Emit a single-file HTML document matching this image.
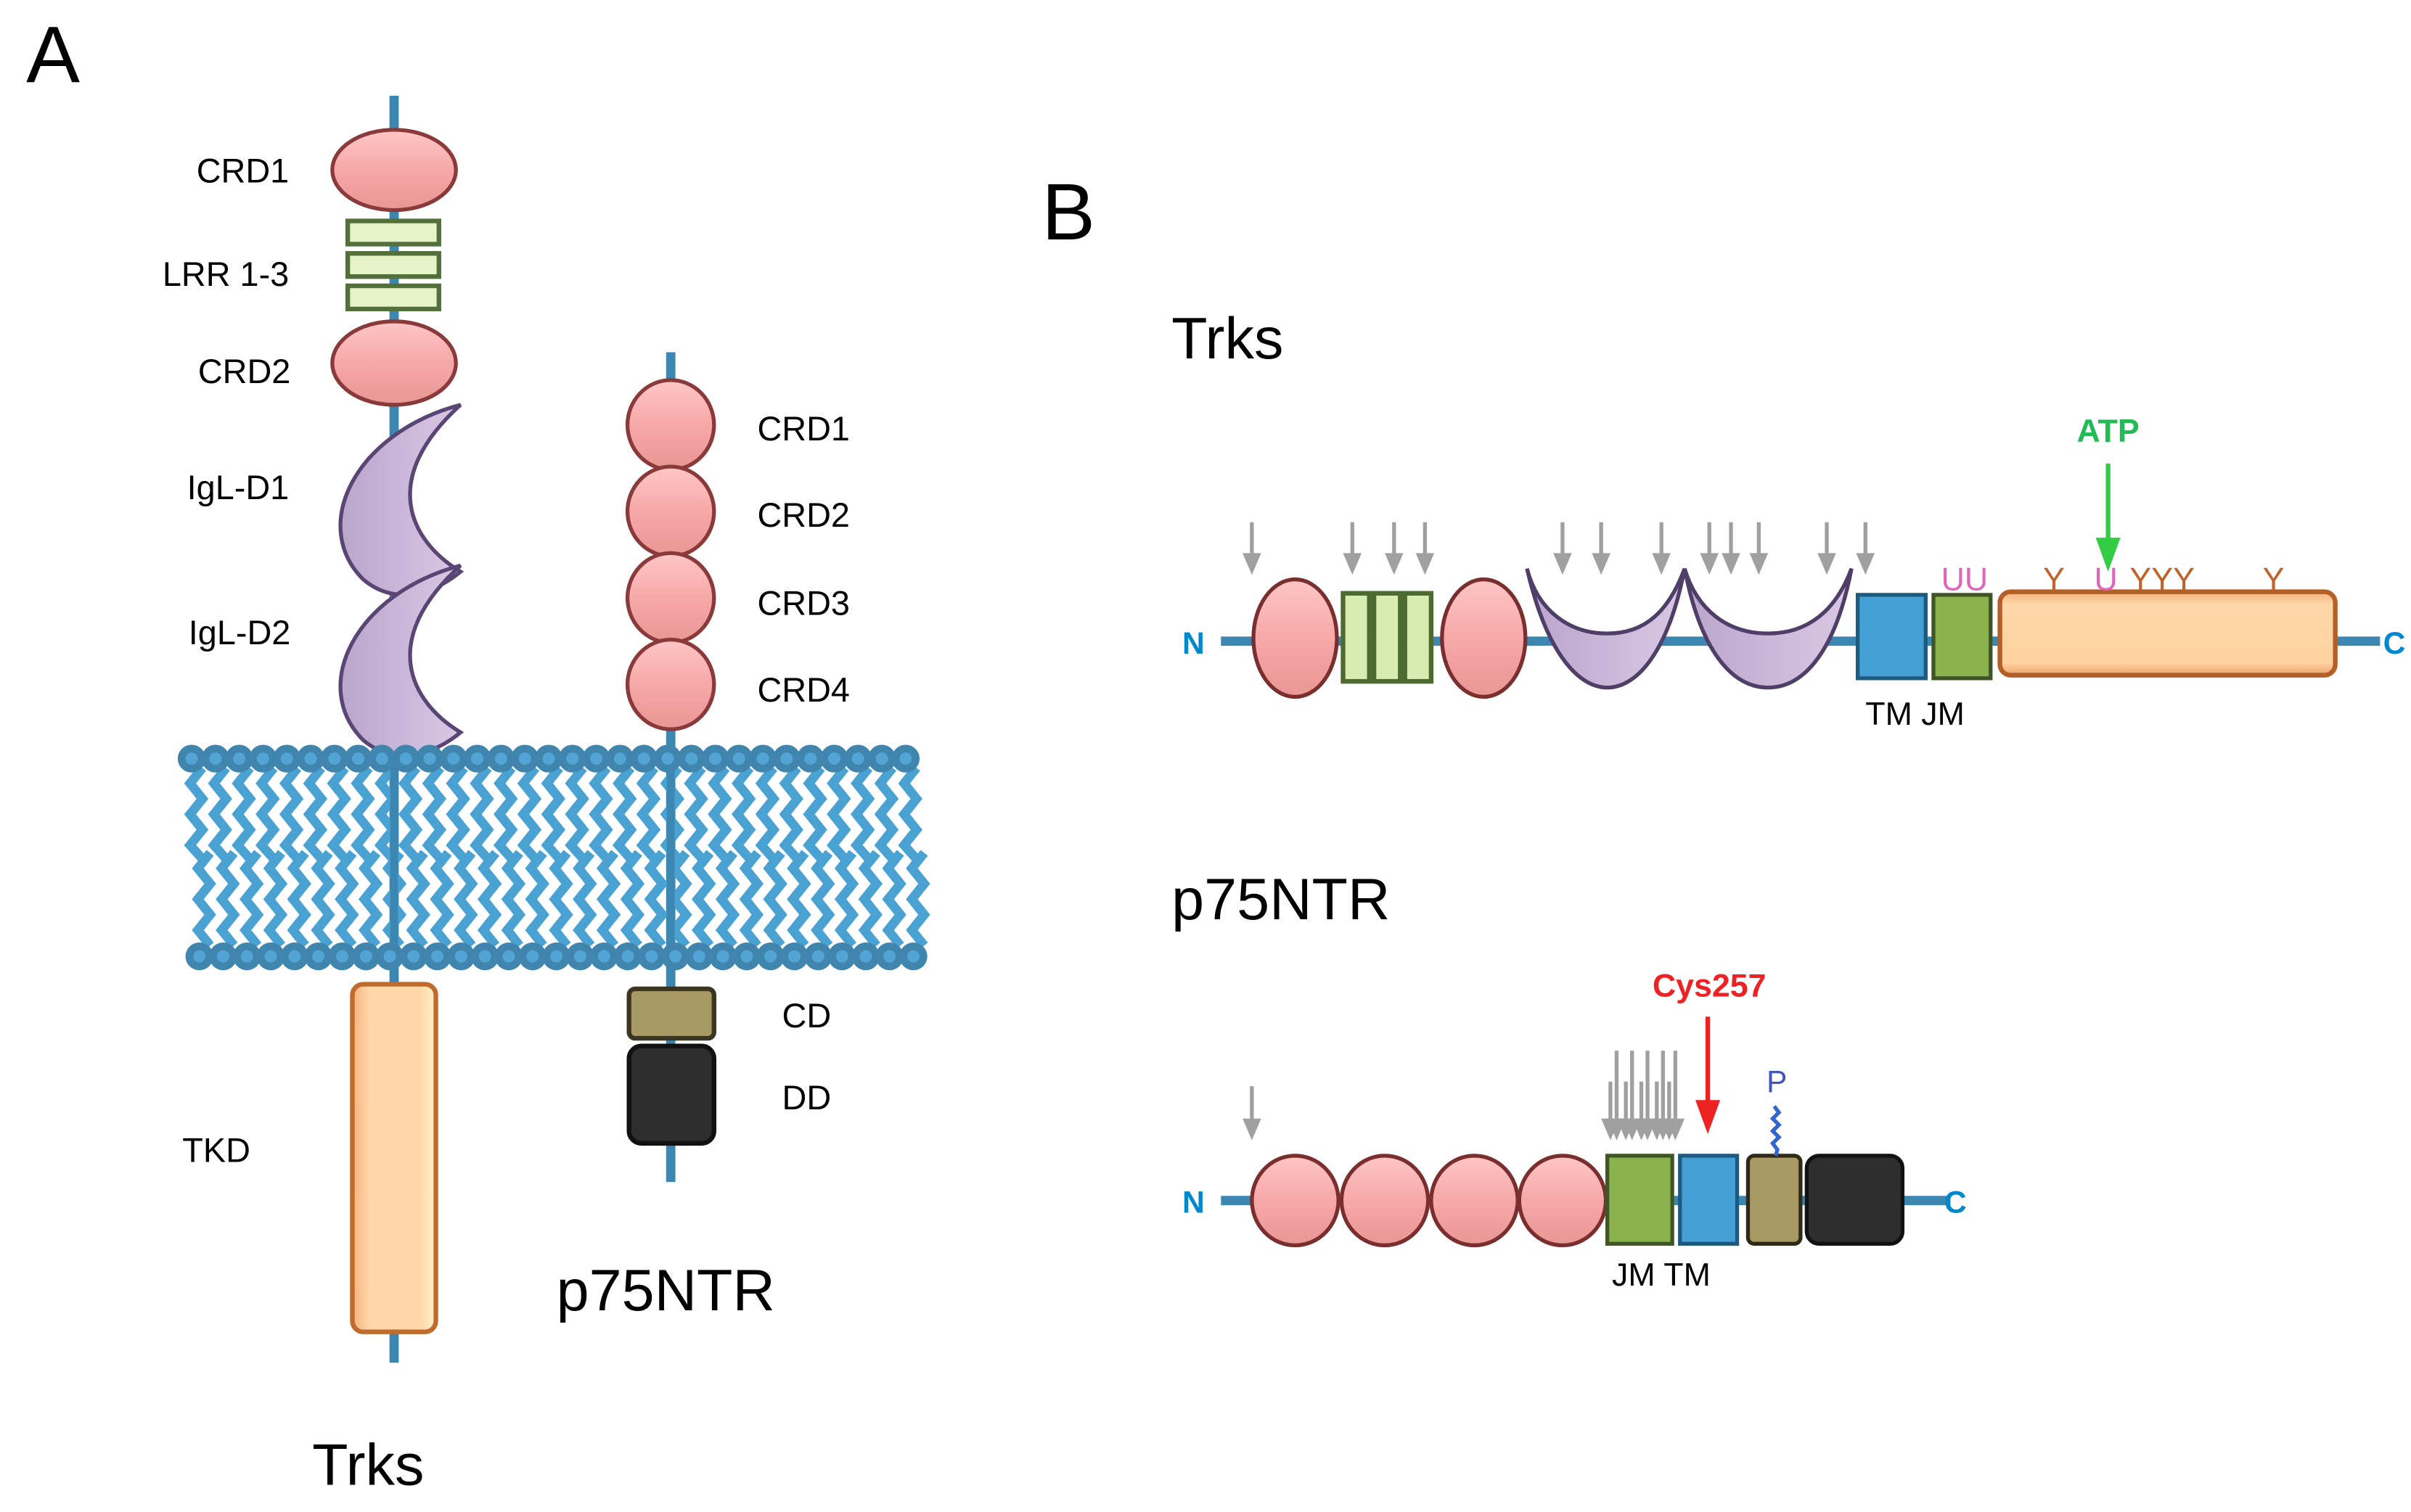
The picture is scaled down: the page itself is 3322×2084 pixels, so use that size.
<!DOCTYPE html>
<html><head><meta charset="utf-8"><style>
html,body{margin:0;padding:0;background:#fff;}
svg{display:block;}
text{font-family:"Liberation Sans",Arial,sans-serif;}
</style></head><body>
<svg id="s" width="3322" height="2084" viewBox="0 0 1560 978.6" preserveAspectRatio="none" xmlns="http://www.w3.org/2000/svg">
<defs>
<linearGradient id="pink" x1="0" y1="0" x2="0" y2="1"><stop offset="0" stop-color="#ffc6c6"/><stop offset="0.5" stop-color="#f7a8a8"/><stop offset="1" stop-color="#e89696"/></linearGradient>
<linearGradient id="purp" x1="0" y1="0" x2="1" y2="0"><stop offset="0" stop-color="#b9a6cc"/><stop offset="1" stop-color="#d8c8e4"/></linearGradient>
<linearGradient id="orng" x1="0" y1="0" x2="0" y2="1"><stop offset="0" stop-color="#f3b27f"/><stop offset="0.15" stop-color="#ffd6a8"/><stop offset="0.85" stop-color="#ffd2a0"/><stop offset="1" stop-color="#e9a370"/></linearGradient>
<linearGradient id="orngv" x1="0" y1="0" x2="1" y2="0"><stop offset="0" stop-color="#f3b27f"/><stop offset="0.2" stop-color="#ffd6a8"/><stop offset="0.8" stop-color="#ffd6a8"/><stop offset="1" stop-color="#fff0c8"/></linearGradient>
</defs>

<!-- Panel A -->
<text x="17" y="53" font-size="52">A</text>
<line x1="255" y1="62" x2="255" y2="882" stroke="#3c87b2" stroke-width="6"/>
<ellipse cx="255" cy="110" rx="40" ry="26" fill="url(#pink)" stroke="#8a3a3a" stroke-width="2.5"/>
<g fill="#e6f2c8" stroke="#54703a" stroke-width="3">
<rect x="225" y="143" width="59" height="15"/>
<rect x="225" y="164" width="59" height="15"/>
<rect x="225" y="185" width="59" height="15"/>
</g>
<ellipse cx="255" cy="235" rx="40" ry="27" fill="url(#pink)" stroke="#8a3a3a" stroke-width="2.5"/>
<path d="M298,262 C230,280 200,340 235,375 C255,392 280,385 298,370 C265,350 245,310 298,262 Z" fill="url(#purp)" stroke="#5a4674" stroke-width="2.5"/>
<path d="M298,366 C230,384 200,444 235,479 C255,496 280,489 298,474 C265,454 245,414 298,366 Z" fill="url(#purp)" stroke="#5a4674" stroke-width="2.5"/>
<g font-size="22" text-anchor="end">
<text x="187" y="118">CRD1</text>
<text x="187" y="185">LRR 1-3</text>
<text x="188" y="248">CRD2</text>
<text x="187" y="323">IgL-D1</text>
<text x="188" y="417">IgL-D2</text>
</g>

<line x1="434" y1="228" x2="434" y2="765" stroke="#3c87b2" stroke-width="6"/>
<g fill="url(#pink)" stroke="#8a3a3a" stroke-width="2.5">
<ellipse cx="434" cy="275" rx="28" ry="29"/>
<ellipse cx="434" cy="331" rx="28" ry="29"/>
<ellipse cx="434" cy="387" rx="28" ry="29"/>
<ellipse cx="434" cy="443" rx="28" ry="29"/>
</g>
<g font-size="22">
<text x="490" y="285">CRD1</text>
<text x="490" y="341">CRD2</text>
<text x="490" y="398">CRD3</text>
<text x="490" y="454">CRD4</text>
<text x="506" y="665">CD</text>
<text x="506" y="718">DD</text>
<text x="118" y="752">TKD</text>
</g>

<g id="mem"></g>

<rect x="228" y="637" width="54" height="225" rx="7" fill="url(#orngv)" stroke="#c06a2c" stroke-width="3"/>
<rect x="407" y="640" width="55" height="32" rx="4" fill="#a89a62" stroke="#3a3520" stroke-width="3"/>
<rect x="407" y="677" width="55" height="63" rx="8" fill="#2e2e2e" stroke="#111" stroke-width="3"/>
<text x="360" y="848" font-size="38">p75NTR</text>
<text x="202" y="961" font-size="38">Trks</text>

<!-- Panel B -->
<text x="674" y="155" font-size="52">B</text>
<text x="758" y="232" font-size="38">Trks</text>
<line x1="790" y1="415" x2="1540" y2="415" stroke="#3c87b2" stroke-width="6"/>
<text x="765" y="423" font-size="20" font-weight="bold" fill="#0088cc">N</text>
<text x="1542" y="423" font-size="20" font-weight="bold" fill="#0088cc">C</text>
<ellipse cx="838" cy="413" rx="27" ry="38" fill="url(#pink)" stroke="#7a2e2e" stroke-width="2.5"/>
<g fill="#d8ebb0" stroke="#4d6b30" stroke-width="3">
<rect x="869" y="384" width="17" height="57"/>
<rect x="889" y="384" width="17" height="57"/>
<rect x="909" y="384" width="17" height="57"/>
</g>
<ellipse cx="960" cy="413" rx="27" ry="38" fill="url(#pink)" stroke="#7a2e2e" stroke-width="2.5"/>
<path d="M988,368 C1000,420 1020,445 1040,445 C1060,445 1080,420 1090,368 C1080,395 1065,410 1040,410 C1015,410 995,395 988,368 Z" fill="url(#purp)" stroke="#4e3e68" stroke-width="2.5"/>
<path d="M1090,368 C1100,420 1120,445 1144,445 C1168,445 1188,420 1198,368 C1188,395 1170,410 1144,410 C1118,410 1098,395 1090,368 Z" fill="url(#purp)" stroke="#4e3e68" stroke-width="2.5"/>
<rect x="1202" y="385" width="44" height="54" fill="#449fd4" stroke="#1d5a80" stroke-width="2.5"/>
<rect x="1251" y="385" width="37" height="54" fill="#8ab34e" stroke="#3f5526" stroke-width="2.5"/>
<rect x="1294" y="383" width="217" height="54" rx="7" fill="url(#orng)" stroke="#b35f25" stroke-width="3"/>
<text x="1207" y="469" font-size="21">TM JM</text>
<g font-size="21" fill="#dd66bb"><text x="1256" y="382">UU</text><text x="1355" y="382">U</text></g>
<g font-size="21" fill="#c0632a"><text x="1322" y="382">Y</text><text x="1378" y="382">YYY</text><text x="1464" y="382">Y</text></g>
<text x="1364" y="286" font-size="21" font-weight="bold" fill="#22bb55" text-anchor="middle">ATP</text>
<line x1="1364" y1="300" x2="1364" y2="355" stroke="#33cc44" stroke-width="3"/>
<polygon points="1356,348 1372,348 1364,370" fill="#33cc44"/>
<g id="arrT"></g>

<text x="758" y="595" font-size="38">p75NTR</text>
<line x1="790" y1="777" x2="1262" y2="777" stroke="#3c87b2" stroke-width="6"/>
<text x="765" y="785" font-size="20" font-weight="bold" fill="#0088cc">N</text>
<text x="1258" y="785" font-size="20" font-weight="bold" fill="#0088cc">C</text>
<g fill="url(#pink)" stroke="#7a2e2e" stroke-width="2.5">
<ellipse cx="838" cy="777" rx="28" ry="29"/>
<ellipse cx="896" cy="777" rx="28" ry="29"/>
<ellipse cx="954" cy="777" rx="28" ry="29"/>
<ellipse cx="1011" cy="777" rx="28" ry="29"/>
</g>
<rect x="1040" y="748" width="42" height="57" fill="#8ab34e" stroke="#3f5526" stroke-width="2.5"/>
<rect x="1087" y="748" width="37" height="57" fill="#449fd4" stroke="#1d5a80" stroke-width="2.5"/>
<rect x="1131" y="748" width="34" height="57" rx="4" fill="#a89a62" stroke="#2e2a18" stroke-width="2.5"/>
<rect x="1169" y="748" width="62" height="57" rx="8" fill="#2e2e2e" stroke="#111" stroke-width="2.5"/>
<text x="1043" y="832" font-size="21">JM TM</text>
<text x="1106" y="645" font-size="21" font-weight="bold" fill="#ee2222" text-anchor="middle">Cys257</text>
<line x1="1105" y1="658" x2="1105" y2="720" stroke="#ee2222" stroke-width="3"/>
<polygon points="1097,712 1113,712 1105,734" fill="#ee2222"/>
<text x="1143" y="707" font-size="20" fill="#4455bb">P</text>
<path d="M1148,716 l3,4 l-4,4 l4,4 l-4,4 l4,4 l-4,4 l3,4 l-1,4" fill="none" stroke="#3366cc" stroke-width="2.5"/>
<g id="arrP"></g>
</svg>
<script>
var NS="http://www.w3.org/2000/svg";
function el(p,t,a){var e=document.createElementNS(NS,t);for(var k in a)e.setAttribute(k,a[k]);p.appendChild(e);return e;}
var mem=document.getElementById('mem');
function zig(x,y0,y1){var d="M"+x+","+y0,y=y0,i=0;while(y<y1){y+=10;i++;d+=" L"+(x+((i%2)?-8:0))+","+Math.min(y,y1);}return d;}
for(var i=0;i<31;i++){var x=126+i*15.4;el(mem,'path',{d:zig(x+5,497,556),fill:'none',stroke:'#4aa2d3','stroke-width':6,'stroke-linejoin':'miter'});}
for(var i=0;i<31;i++){var x=131+i*15.4;el(mem,'path',{d:zig(x+5,552,612),fill:'none',stroke:'#4aa2d3','stroke-width':6,'stroke-linejoin':'miter'});}
el(mem,'line',{x1:255,y1:495,x2:255,y2:625,stroke:'#3c87b2','stroke-width':5});
el(mem,'line',{x1:434,y1:495,x2:434,y2:625,stroke:'#3c87b2','stroke-width':5});
for(var i=0;i<31;i++){var x=124+i*15.4;el(mem,'circle',{cx:x,cy:491,r:9,fill:'#3f85ae'});}
for(var i=0;i<31;i++){var x=124+i*15.4;el(mem,'circle',{cx:x,cy:491,r:4,fill:'#52a4d4'});}
for(var i=0;i<31;i++){var x=129+i*15.4;el(mem,'circle',{cx:x,cy:619,r:9,fill:'#3f85ae'});}
for(var i=0;i<31;i++){var x=129+i*15.4;el(mem,'circle',{cx:x,cy:619,r:4,fill:'#52a4d4'});}
function arr(g,x,y0,y1){el(g,'line',{x1:x,y1:y0,x2:x,y2:y1-8,stroke:'#a0a0a0','stroke-width':2.5});el(g,'polygon',{points:(x-6)+","+(y1-14)+" "+(x+6)+","+(y1-14)+" "+x+","+y1,fill:'#a0a0a0'});}
var gT=document.getElementById('arrT');
[810,875,902,922,1011,1036,1075,1106,1120,1138,1182,1207].forEach(function(x){arr(gT,x,338,372);});
var gP=document.getElementById('arrP');
arr(gP,810,703,738);
[1046,1056,1066,1076,1084].forEach(function(x){arr(gP,x,680,738);arr(gP,x-4,700,738);});
</script>
</body></html>
